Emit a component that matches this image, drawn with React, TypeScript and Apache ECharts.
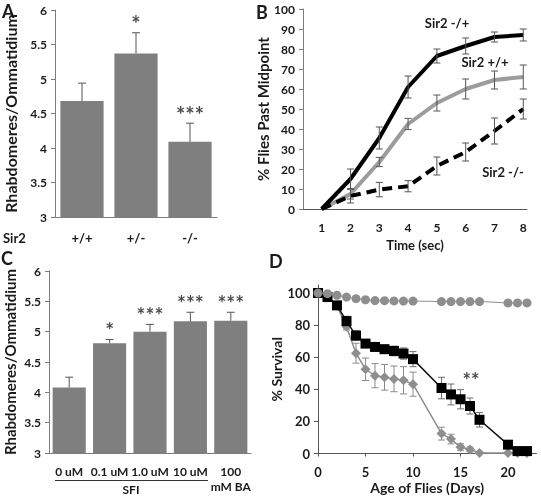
import React, { useEffect, useRef } from "react";
import * as echarts from "echarts";

// Panel A: rhabdomeres per ommatidium by Sir2 genotype
const genotypes = ["+/+", "+/-", "-/-"];
const genotypeMeans = [4.68, 5.37, 4.09];
const genotypeErrors = [0.26, 0.3, 0.27];
const genotypeStars = ["", "*", "***"];

// Panel B: % flies past the midpoint over time
const seconds = [1, 2, 3, 4, 5, 6, 7, 8];
const hetMeans = [0, 15, 35.5, 61, 76.5, 81.5, 86, 87];
const hetErrors = [0, 5, 5.5, 5.5, 3.5, 4, 2.5, 3];
const wtMeans = [0, 7.5, 23.5, 42.5, 53, 60, 64.5, 66];
const wtErrors = [0, 2.5, 2.3, 2.8, 4, 5, 4.5, 6];
const nullMeans = [0, 6.5, 9.7, 11.4, 21.5, 28.5, 39, 50];
const nullErrors = [0, 3.5, 3.6, 2.8, 4.5, 4.5, 6.5, 5];
const lineNames = ["Sir2 -/+", "Sir2 +/+", "Sir2 -/-"];

// Panel C: rhabdomeres per ommatidium by treatment
const doses = ["0 uM", "0.1 uM", "1.0 uM", "10 uM", "100\nmM BA"];
const doseMeans = [4.08, 4.81, 5.0, 5.17, 5.18];
const doseErrors = [0.17, 0.06, 0.12, 0.15, 0.14];
const doseStars = ["", "*", "***", "***", "***"];

// Panel D: survival by age
const ageDays = [0, 1, 2, 3, 4, 5, 6, 7, 8, 9, 10, 13, 14, 15, 16, 17, 20, 21, 22];
const controlSurvival = [100, 99.6, 98.6, 97.5, 96.5, 95.8, 95.3, 95.2, 95.1, 95, 95, 94.7, 94.7, 94.7, 94.7, 94.7, 93.8, 93.8, 93.8];
const squareSurvival = [100, 97.5, 92.3, 82.5, 73.5, 68.5, 66.4, 65, 63.9, 62.3, 58.8, 40.8, 36.8, 33.8, 29.6, 21, 5.5, 1.5, 1.5];
const squareErrors = [0, 1, 1.5, 3, 3, 2.5, 2.5, 2.5, 3, 3.5, 4.7, 6.7, 6.5, 6, 5, 4.5, 1.2, 0.5, 0.5];
const diamondSurvival = [100, 98, 92, 79, 62.5, 52.5, 48.5, 47.5, 46.5, 45.6, 43.2, 12.4, 9, 4, 2.5, 0.3, 0.3, 0.3, 0.3];
const diamondErrors = [0, 1, 1.5, 2, 6.2, 7, 7.5, 8, 8, 8.5, 7.5, 4, 3, 2, 1.5, 0, 0, 0, 0];
const survivalStars = "**";

const FONT = "Lato, 'Open Sans', sans-serif";
const INK = "#1a1a1a";
const AXIS = "#7d7d7d";
const BAR = "#7f7f7f";

// Vertical error bars with caps; upOnly draws only the upper half (bar charts)
function errorBars(cap: number, color: string, upOnly: boolean) {
  return (_params: any, api: any) => {
    const x = api.value(0);
    const mean = api.value(1);
    const err = api.value(2);
    if (!(err > 0)) return { type: "group", children: [] };
    const style = { stroke: color, lineWidth: 1 };
    const hi = api.coord([x, mean + err]);
    const lo = api.coord([x, upOnly ? mean : mean - err]);
    const children: any[] = [
      { type: "line", shape: { x1: hi[0], y1: hi[1], x2: lo[0], y2: lo[1] }, style },
      { type: "line", shape: { x1: hi[0] - cap, y1: hi[1], x2: hi[0] + cap, y2: hi[1] }, style },
    ];
    if (!upOnly) {
      children.push({ type: "line", shape: { x1: lo[0] - cap, y1: lo[1], x2: lo[0] + cap, y2: lo[1] }, style });
    }
    return { type: "group", children };
  };
}

// Significance marks placed just above each error bar
function starSeries(axis: number, means: number[], errs: number[], stars: string[], lift: number, size: number) {
  return {
    type: "scatter",
    xAxisIndex: axis,
    yAxisIndex: axis,
    data: means.map((m, i) => [i, m + errs[i]]),
    symbolSize: 0,
    itemStyle: { color: INK },
    label: {
      show: true,
      position: "inside",
      offset: [0, -lift],
      formatter: (p: any) => stars[p.dataIndex],
      color: INK,
      fontFamily: FONT,
      fontWeight: "bold",
      fontSize: size,
    },
    z: 6,
  };
}

const tickLabel = { color: INK, fontFamily: FONT, fontWeight: "bold" as const, fontSize: 12 };
const axisName = (size: number) => ({ color: INK, fontFamily: FONT, fontWeight: "bold" as const, fontSize: size });

function buildOption(): any {
  return {
    animation: false,
    backgroundColor: "#ffffff",
    color: [INK],
    textStyle: { fontFamily: FONT },
    grid: [
      { left: 55, top: 10, width: 162, height: 207 },
      { left: 303, top: 9, width: 224, height: 200 },
      { left: 49, top: 271, width: 202, height: 182 },
      { left: 318, top: 285, width: 218.5, height: 168.5 },
    ],
    xAxis: [
      {
        gridIndex: 0,
        type: "category",
        data: genotypes,
        axisLine: { lineStyle: { color: AXIS } },
        axisTick: { show: false },
        axisLabel: { ...tickLabel, fontSize: 13, margin: 14 },
      },
      {
        gridIndex: 1,
        type: "value",
        min: 0.35,
        max: 8.13,
        splitLine: { show: false },
        axisLine: { lineStyle: { color: "#555" } },
        axisTick: { show: false },
        axisLabel: { ...tickLabel, margin: 12, customValues: seconds },
        name: "Time (sec)",
        nameLocation: "middle",
        nameGap: 29,
        nameTextStyle: axisName(13),
      },
      {
        gridIndex: 2,
        type: "category",
        data: doses,
        axisLine: { lineStyle: { color: AXIS } },
        axisTick: { show: false },
        axisLabel: { ...tickLabel, margin: 11, interval: 0, lineHeight: 15 },
      },
      {
        gridIndex: 3,
        type: "value",
        min: 0,
        max: 23,
        splitLine: { show: false },
        axisLine: { lineStyle: { color: "#555" } },
        axisTick: { show: true, length: 3, customValues: [0, 5, 10, 15, 20], lineStyle: { color: "#555" } },
        axisLabel: { ...tickLabel, fontSize: 13, margin: 12, customValues: [0, 5, 10, 15, 20] },
        name: "Age of Flies (Days)",
        nameLocation: "middle",
        nameGap: 27,
        nameTextStyle: axisName(14),
      },
    ],
    yAxis: [
      {
        gridIndex: 0,
        type: "value",
        min: 3,
        max: 6,
        interval: 0.5,
        splitLine: { show: false },
        axisLine: { show: true, lineStyle: { color: AXIS } },
        axisTick: { show: true, length: 4, lineStyle: { color: AXIS } },
        axisLabel: { ...tickLabel, margin: 8 },
        name: "Rhabdomeres/Ommatidium",
        nameLocation: "middle",
        nameGap: 37,
        nameTextStyle: axisName(16),
      },
      {
        gridIndex: 1,
        type: "value",
        min: 0,
        max: 100,
        interval: 10,
        splitLine: { show: false },
        axisLine: { show: true, lineStyle: { color: AXIS } },
        axisTick: { show: true, length: 4, lineStyle: { color: AXIS } },
        axisLabel: { ...tickLabel, margin: 8 },
        name: "% Flies Past Midpoint",
        nameLocation: "middle",
        nameGap: 28,
        nameTextStyle: axisName(15),
      },
      {
        gridIndex: 2,
        type: "value",
        min: 3,
        max: 6,
        interval: 0.5,
        splitLine: { show: false },
        axisLine: { show: true, lineStyle: { color: AXIS } },
        axisTick: { show: true, length: 4, lineStyle: { color: AXIS } },
        axisLabel: { ...tickLabel, margin: 8 },
        name: "Rhabdomeres/Ommatidium",
        nameLocation: "middle",
        nameGap: 32,
        nameTextStyle: axisName(15),
      },
      {
        gridIndex: 3,
        type: "value",
        min: 0,
        max: 105,
        splitLine: { show: false },
        axisLine: { show: true, lineStyle: { color: "#555" } },
        axisTick: { show: true, length: 4, customValues: [0, 20, 40, 60, 80, 100], lineStyle: { color: "#555" } },
        axisLabel: { ...tickLabel, fontSize: 13, margin: 8, customValues: [0, 20, 40, 60, 80, 100] },
        name: "% Survival",
        nameLocation: "middle",
        nameGap: 30,
        nameTextStyle: axisName(14),
      },
    ],
    series: [
      // A
      {
        type: "bar",
        xAxisIndex: 0,
        yAxisIndex: 0,
        data: genotypeMeans,
        barCategoryGap: "20%",
        itemStyle: { color: BAR },
      },
      {
        type: "custom",
        xAxisIndex: 0,
        yAxisIndex: 0,
        itemStyle: { color: "#555" },
        renderItem: errorBars(4, "#555", true),
        data: genotypeMeans.map((m, i) => [i, m, genotypeErrors[i]]),
        z: 5,
      },
      starSeries(0, genotypeMeans, genotypeErrors, genotypeStars, 9, 22),
      // B
      {
        type: "line",
        xAxisIndex: 1,
        yAxisIndex: 1,
        data: seconds.map((s, i) => [s, wtMeans[i]]),
        symbol: "none",
        lineStyle: { color: "#9c9c9c", width: 4 },
      },
      {
        type: "line",
        xAxisIndex: 1,
        yAxisIndex: 1,
        data: seconds.map((s, i) => [s, nullMeans[i]]),
        symbol: "none",
        lineStyle: { color: "#000", width: 4, type: [10, 6] },
      },
      {
        type: "line",
        xAxisIndex: 1,
        yAxisIndex: 1,
        data: seconds.map((s, i) => [s, hetMeans[i]]),
        symbol: "none",
        lineStyle: { color: "#000", width: 4 },
      },
      ...[
        [hetMeans, hetErrors],
        [wtMeans, wtErrors],
        [nullMeans, nullErrors],
      ].map(([means, errs]) => ({
        type: "custom",
        xAxisIndex: 1,
        yAxisIndex: 1,
        itemStyle: { color: "#555" },
        renderItem: errorBars(3.5, "#555", false),
        data: seconds.map((s, i) => [s, means[i], errs[i]]),
        z: 5,
      })),
      // C
      {
        type: "bar",
        xAxisIndex: 2,
        yAxisIndex: 2,
        data: doseMeans,
        barCategoryGap: "18%",
        itemStyle: { color: BAR },
      },
      {
        type: "custom",
        xAxisIndex: 2,
        yAxisIndex: 2,
        itemStyle: { color: "#555" },
        renderItem: errorBars(4, "#555", true),
        data: doseMeans.map((m, i) => [i, m, doseErrors[i]]),
        z: 5,
      },
      starSeries(2, doseMeans, doseErrors, doseStars, 10, 21),
      // D
      {
        type: "custom",
        xAxisIndex: 3,
        yAxisIndex: 3,
        itemStyle: { color: "#8a8a8a" },
        renderItem: errorBars(3.5, "#8a8a8a", false),
        data: ageDays.map((d, i) => [d, diamondSurvival[i], diamondErrors[i]]),
        z: 1,
      },
      {
        type: "line",
        xAxisIndex: 3,
        yAxisIndex: 3,
        data: ageDays.map((d, i) => [d, diamondSurvival[i]]),
        symbol: "diamond",
        symbolSize: 10,
        itemStyle: { color: "#8e8e8e" },
        lineStyle: { color: "#8e8e8e", width: 1.5 },
        z: 2,
      },
      {
        type: "custom",
        xAxisIndex: 3,
        yAxisIndex: 3,
        itemStyle: { color: "#6f6f6f" },
        renderItem: errorBars(3.5, "#6f6f6f", false),
        data: ageDays.map((d, i) => [d, squareSurvival[i], squareErrors[i]]),
        z: 3,
      },
      {
        type: "line",
        xAxisIndex: 3,
        yAxisIndex: 3,
        data: ageDays.map((d, i) => [d, squareSurvival[i]]),
        symbol: "rect",
        symbolSize: 10,
        itemStyle: { color: "#000" },
        lineStyle: { color: "#111", width: 1.5 },
        z: 4,
      },
      {
        type: "line",
        xAxisIndex: 3,
        yAxisIndex: 3,
        data: ageDays.map((d, i) => [d, controlSurvival[i]]),
        symbol: "circle",
        symbolSize: 9,
        itemStyle: { color: "#8e8e8e" },
        lineStyle: { color: "#8e8e8e", width: 1 },
        z: 5,
      },
      {
        type: "scatter",
        xAxisIndex: 3,
        yAxisIndex: 3,
        data: [[16.1, 46]],
        symbolSize: 0,
        itemStyle: { color: INK },
        label: {
          show: true,
          position: "inside",
          formatter: survivalStars,
          color: INK,
          fontFamily: FONT,
          fontWeight: "bold",
          fontSize: 20,
        },
        z: 6,
      },
    ],
    graphic: [
      ...[
        ["A", 2, 2],
        ["B", 256, 3],
        ["C", 1, 249],
        ["D", 269, 252],
      ].map(([t, x, y]) => ({
        type: "text",
        x,
        y,
        style: { text: t, fill: INK, fontFamily: FONT, fontWeight: "bold", fontSize: 18 },
      })),
      {
        type: "text",
        x: 3,
        y: 231,
        style: { text: "Sir2", fill: INK, fontFamily: FONT, fontWeight: "bold", fontSize: 13 },
      },
      ...[
        [lineNames[0], 447, 23],
        [lineNames[1], 485, 62],
        [lineNames[2], 503, 172],
      ].map(([t, x, y]) => ({
        type: "text",
        x,
        y,
        style: {
          text: t,
          fill: INK,
          fontFamily: FONT,
          fontWeight: "bold",
          fontSize: 13,
          align: "center",
          verticalAlign: "middle",
        },
      })),
      {
        type: "line",
        shape: { x1: 55, y1: 480.5, x2: 208, y2: 480.5 },
        style: { stroke: "#333", lineWidth: 1 },
      },
      {
        type: "text",
        x: 131,
        y: 483,
        style: {
          text: "SFI",
          fill: INK,
          fontFamily: FONT,
          fontWeight: "bold",
          fontSize: 12,
          align: "center",
          verticalAlign: "top",
        },
      },
    ],
  };
}

export default function App() {
  const ref = useRef<HTMLDivElement | null>(null);
  useEffect(() => {
    if (!ref.current) return;
    const chart = echarts.init(ref.current, undefined, { renderer: "svg" });
    chart.setOption(buildOption());
    return () => chart.dispose();
  }, []);
  // The figure is monochrome; grayscale keeps text antialiasing neutral
  return (
    <div
      ref={ref}
      style={{
        position: "absolute",
        left: 0,
        top: 0,
        width: 541,
        height: 497,
        background: "#fff",
        filter: "grayscale(1)",
      }}
    />
  );
}
